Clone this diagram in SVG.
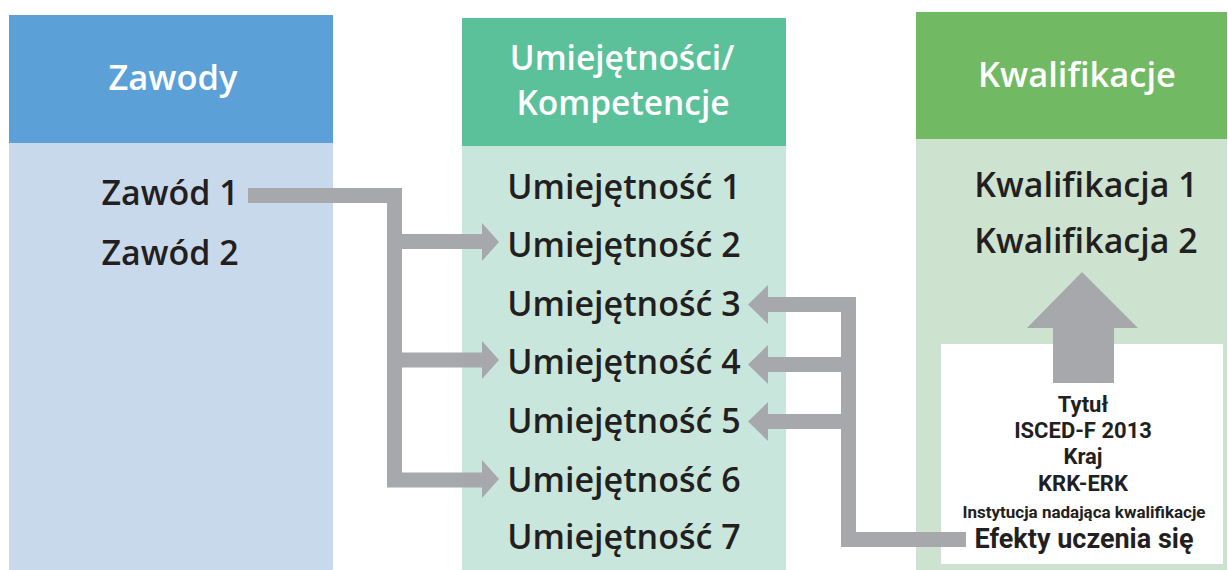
<svg xmlns="http://www.w3.org/2000/svg" width="1228" height="570" viewBox="0 0 1228 570">
<style>
text{font-family:"Open Sans","Liberation Sans",sans-serif;font-weight:600;text-anchor:middle}
.h{fill:#FFFFFF;font-size:34.5px}
.t{fill:#231F20;font-size:34px}
.b{font-family:Roboto,"Liberation Sans",sans-serif;font-weight:700;fill:#231F20}
.s{font-size:22px}
.si{font-size:17px}
.e{font-size:27px}
.c{fill:none;stroke:#A7A8AB;stroke-width:15;stroke-linejoin:miter}
.a{fill:#A7A8AB}
</style>
<rect width="1228" height="570" fill="#FFFFFF"/>
<g id="zawody">
<rect x="9" y="15" width="324" height="128" fill="#5BA1D8"/>
<rect x="9" y="143" width="324" height="427" fill="#C9D9EC"/>
<text class="h" x="173" y="90">Zawody</text>
<text class="t" x="170" y="205">Zawód 1</text>
<text class="t" x="170" y="265">Zawód 2</text>
</g>
<g id="umiejetnosci">
<rect x="462" y="18" width="324" height="128" fill="#5BC19A"/>
<rect x="462" y="146" width="324" height="424" fill="#C9E6DD"/>
<text class="h" x="622" y="70" style="font-size:33.5px">Umiejętności/</text>
<text class="h" x="623" y="115" style="font-size:33.5px">Kompetencje</text>
<text class="t" x="624" y="199">Umiejętność 1</text>
<text class="t" x="624" y="257">Umiejętność 2</text>
<text class="t" x="624" y="316">Umiejętność 3</text>
<text class="t" x="624" y="374">Umiejętność 4</text>
<text class="t" x="624" y="433">Umiejętność 5</text>
<text class="t" x="624" y="492">Umiejętność 6</text>
<text class="t" x="624" y="549">Umiejętność 7</text>
</g>
<g id="kwalifikacje">
<rect x="916" y="12" width="311" height="127" fill="#72B963"/>
<rect x="916" y="139" width="311" height="431" fill="#CDE3CF"/>
<text class="h" x="1077" y="87">Kwalifikacje</text>
<text class="t" x="1086" y="197">Kwalifikacja 1</text>
<text class="t" x="1086" y="253">Kwalifikacja 2</text>
</g>
<g id="opis">
<rect x="941" y="344" width="282" height="220" fill="#FFFFFF"/>
<text class="b s" x="1083" y="412">Tytuł</text>
<text class="b s" x="1083" y="438">ISCED-F 2013</text>
<text class="b s" x="1083" y="464">Kraj</text>
<text class="b s" x="1083" y="491">KRK-ERK</text>
<text class="b si" x="1084" y="517.5">Instytucja nadająca kwalifikacje</text>
<text class="b e" x="1084" y="547.5">Efekty uczenia się</text>
</g>
<g id="connectors">
<path class="c" d="M248,195.5 H394.5 V480 H483"/>
<path class="c" d="M394.5,241.5 H483 M394.5,360 H483"/>
<polygon class="a" points="482,223 499,242 482,261"/>
<polygon class="a" points="482,341 499,360 482,379"/>
<polygon class="a" points="482,460 499,479 482,498"/>
<path class="c" d="M966,539.5 H848.5 V304.5 H767"/>
<path class="c" d="M848.5,364.5 H767 M848.5,421.5 H767"/>
<polygon class="a" points="768,285 748,304.5 768,324"/>
<polygon class="a" points="768,345 748,364.5 768,384"/>
<polygon class="a" points="768,402 748,421.5 768,441"/>
<polygon class="a" points="1053,383 1053,328 1027,328 1082,272 1138,328 1114,328 1114,383"/>
</g>
</svg>
